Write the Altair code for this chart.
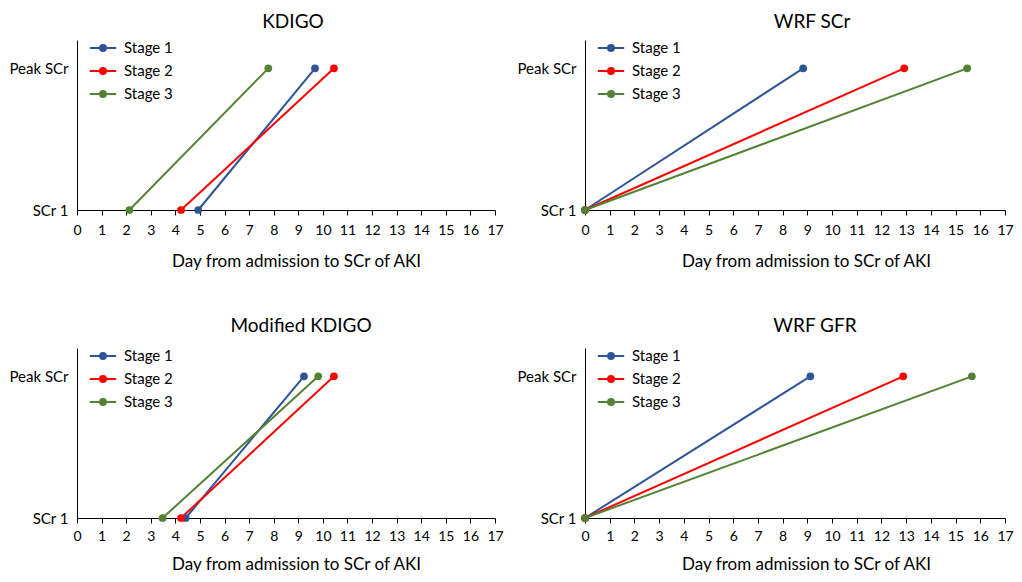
import altair as alt
import pandas as pd

panels = ["KDIGO", "WRF SCr", "Modified KDIGO", "WRF GFR"]
stages = ["Stage 1", "Stage 2", "Stage 3"]
colors = ["#2F5597", "#FF0000", "#548235"]

# day of SCr 1 (first measurement) and day of peak SCr, per panel, per stage
start_day = {
    "KDIGO": [4.93, 4.23, 2.13],
    "WRF SCr": [0.0, 0.0, 0.0],
    "Modified KDIGO": [4.42, 4.23, 3.48],
    "WRF GFR": [0.0, 0.0, 0.0],
}
peak_day = {
    "KDIGO": [9.68, 10.45, 7.78],
    "WRF SCr": [8.83, 12.92, 15.47],
    "Modified KDIGO": [9.23, 10.45, 9.81],
    "WRF GFR": [9.12, 12.88, 15.66],
}
levels = [0, 1]
level_labels = ["SCr 1", "Peak SCr"]
x_ticks = list(range(0, 18))

FONT = "Lato"
PATH = ("M-1.2,0L1.2,0"
        "M0.27,0A0.27,0.27 0 1,1 -0.27,0A0.27,0.27 0 1,1 0.27,0"
        "M0.15,0A0.15,0.15 0 1,1 -0.15,0A0.15,0.15 0 1,1 0.15,0"
        "M0.05,0A0.05,0.05 0 1,1 -0.05,0A0.05,0.05 0 1,1 0.05,0")


def panel(name, width, title_dx, title_offset, label_pad, title_pad, title_x):
    rows = []
    for i, s in enumerate(stages):
        rows.append({"stage": s, "day": start_day[name][i], "level": levels[0]})
        rows.append({"stage": s, "day": peak_day[name][i], "level": levels[1]})
    df = pd.DataFrame(rows)
    x = alt.X("day:Q", scale=alt.Scale(domain=[0, 17], nice=False),
              axis=alt.Axis(values=x_ticks, title="Day from admission to SCr of AKI",
                            grid=False, tickSize=5, tickColor="#000", domainColor="#000",
                            labelFontSize=14, labelColor="#000", labelPadding=label_pad,
                            labelFlush=False, labelOverlap=False,
                            labelFont=FONT, titleFont=FONT, titleFontSize=17,
                            titleFontWeight="normal", titleColor="#000", titlePadding=title_pad,
                            titleX=title_x, format="d"))
    y = alt.Y("level:Q", scale=alt.Scale(domain=[0, 1.2], nice=False),
              axis=alt.Axis(values=levels, title=None, grid=False, ticks=False, tickSize=0,
                            labelExpr="datum.value == 1 ? '%s' : '%s'" % (level_labels[1], level_labels[0]),
                            labelFontSize=15, labelFont=FONT, labelColor="#000",
                            labelPadding=9, domainColor="#000"))
    color = alt.Color("stage:N", scale=alt.Scale(domain=stages, range=colors),
                      legend=alt.Legend(title=None, orient="none", legendX=14, legendY=-4,
                                        symbolType=PATH, symbolSize=484, symbolStrokeWidth=2,
                                        labelFont=FONT, labelFontSize=15, labelColor="#000",
                                        labelOffset=9, rowPadding=3, padding=0))
    base = alt.Chart(df).encode(x=x, y=y, color=color, detail="stage:N")
    lines = base.mark_line(strokeWidth=2)
    pts = base.mark_point(filled=True, size=60, opacity=1)
    return alt.layer(lines, pts).properties(
        width=width, height=170,
        title=alt.TitleParams(name, font=FONT, fontSize=19, fontWeight="normal",
                              color="#000", offset=title_offset, dx=title_dx))


top = alt.hconcat(panel(panels[0], 418, 7, 4, 8, 16, 219),
                  panel(panels[1], 420, 17, 4, 8, 16, 221),
                  spacing=12).resolve_scale(color="independent").resolve_legend(color="independent")
bottom = alt.hconcat(panel(panels[2], 418, 15, 8, 6, 13, 219),
                     panel(panels[3], 420, 20, 8, 6, 13, 221),
                     spacing=12).resolve_scale(color="independent").resolve_legend(color="independent")
chart = alt.vconcat(top, bottom, spacing=48).resolve_scale(
    color="independent").resolve_legend(color="independent").properties(
    padding={"left": 0, "top": 5, "right": 0, "bottom": 0}
).configure(background="white", view=alt.ViewConfig(stroke=None))

chart.save("out.html", embed_options={"renderer": "svg", "actions": False})
